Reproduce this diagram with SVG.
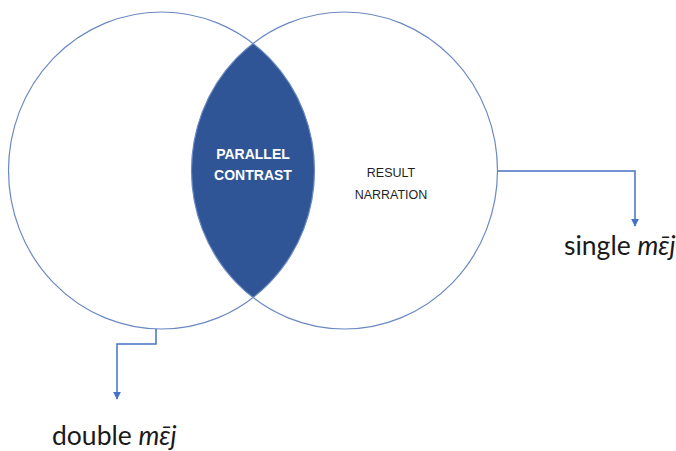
<svg xmlns="http://www.w3.org/2000/svg" width="676" height="451" viewBox="0 0 676 451">
  <defs>
    <marker id="arr" viewBox="0 0 10 10" refX="9" refY="5" markerWidth="8" markerHeight="8" markerUnits="userSpaceOnUse" orient="auto">
      <path d="M0,0 L10,5 L0,10 Z" fill="#4472C4"/>
    </marker>
    <style>
      .circ { fill: none; stroke: #6A89C2; stroke-width: 1.2; }
      .conn { fill: none; stroke: #4472C4; stroke-width: 1.5; marker-end: url(#arr); }
      .lens { font-family: "Liberation Sans", Arial, sans-serif; font-weight: bold; font-size: 14px; fill: #FFFFFF; text-anchor: middle; }
      .inner { font-family: "Liberation Sans", Arial, sans-serif; font-size: 12.5px; fill: #1F1F1F; text-anchor: middle; }
      .label { font-family: "Lato", "Liberation Sans", sans-serif; font-size: 26.5px; fill: #1A1A1A; }
    </style>
  </defs>
  <rect width="676" height="451" fill="#FFFFFF"/>
  <g id="overlap">
    <path d="M253,43.5 A153,158.5 0 0 1 253,297.5 A153,158.5 0 0 1 253,43.5 Z" fill="#2F5597"/>
    <text class="lens" x="253" y="159">PARALLEL</text>
    <text class="lens" x="253" y="180">CONTRAST</text>
  </g>
  <g id="left-circle">
    <ellipse class="circ" cx="161.5" cy="170.5" rx="153" ry="158.5"/>
  </g>
  <g id="right-circle">
    <ellipse class="circ" cx="344.5" cy="170.5" rx="153" ry="158.5"/>
    <text class="inner" x="391" y="177">RESULT</text>
    <text class="inner" x="391" y="199">NARRATION</text>
  </g>
  <g id="connectors">
    <polyline class="conn" points="156,329 156,344 117,344 117,399"/>
    <polyline class="conn" points="497.5,171 635,171 635,226"/>
  </g>
  <g id="double-label">
    <text class="label" x="52" y="445">double <tspan font-style="italic">mɛ̄j</tspan></text>
  </g>
  <g id="single-label">
    <text class="label" x="564" y="255">single <tspan font-style="italic">mɛ̄j</tspan></text>
  </g>
</svg>
